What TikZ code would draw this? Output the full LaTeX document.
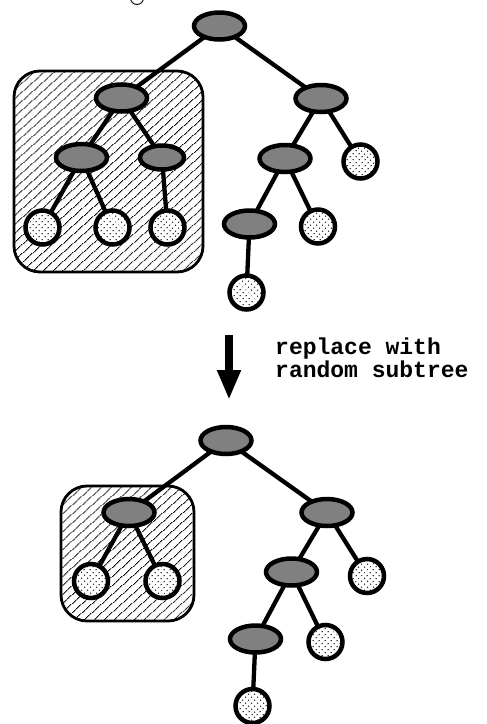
\documentclass[tikz,border=0pt]{standalone}
\usepackage{fontspec}
\setmonofont{Liberation Mono}
\usetikzlibrary{shapes.geometric,patterns.meta,arrows.meta}
\pgfdeclarelayer{boxlayer}
\pgfdeclarelayer{edgelayer}
\pgfsetlayers{boxlayer,edgelayer,main}
\tikzset{
  inner/.style={ellipse, draw, line width=4.5pt, fill=black!50,
    minimum width=51pt, minimum height=27pt, inner sep=0pt},
  innersmall/.style={inner, minimum width=44pt, minimum height=24pt},
  leaf/.style={circle, draw, line width=4.5pt, minimum size=34pt, inner sep=0pt,
    preaction={fill=white}, pattern={Dots[distance=4pt, radius=0.8pt, angle=45]}, pattern color=black!85},
  edge/.style={line width=4.3pt},
  subtree/.style={draw, line width=2.8pt, rounded corners=26pt,
    preaction={fill=white}, pattern={Lines[angle=42, distance=6.5pt, line width=1pt]}},
  caption/.style={font=\ttfamily\bfseries\fontsize{23}{20}\selectfont, align=left, inner sep=0pt}
}
\begin{document}
\begin{tikzpicture}[x=1pt,y=-1pt]
\useasboundingbox (0,0) rectangle (487,724);

% small circle cut by the top edge
\begin{scope}
  \clip (0,0) rectangle (487,724);
  \draw[line width=0.9pt] (137,-2) circle[radius=6.5];
\end{scope}

% ---------- original tree ----------
\node[inner] (ar) at (219.5,26) {};
\node[inner] (aL) at (121.5,98) {};
\node[inner] (aLL) at (81.5,157.5) {};
\node[innersmall] (aLR) at (162,157.5) {};
\node[leaf] (aLLa) at (42.5,227.5) {};
\node[leaf] (aLLb) at (112.5,227.5) {};
\node[leaf] (aLRa) at (167.5,227.5) {};
\node[inner] (aR) at (321,98.5) {};
\node[inner] (aRL) at (285,158.5) {};
\node[leaf] (aRR) at (360.5,161.5) {};
\node[inner] (aRLL) at (249.5,224) {};
\node[leaf] (aRLR) at (318,226.5) {};
\node[leaf] (aRLLa) at (246.5,292.5) {};

% ---------- tree after replacement ----------
\node[inner] (br) at (226,440.5) {};
\node[inner] (bL) at (129,512.5) {};
\node[leaf] (bLa) at (91,581) {};
\node[leaf] (bLb) at (162.5,581) {};
\node[inner] (bR) at (327,512.5) {};
\node[inner] (bRL) at (291.5,572) {};
\node[leaf] (bRR) at (367,576) {};
\node[inner] (bRLL) at (255.5,639) {};
\node[leaf] (bRLR) at (325.5,642) {};
\node[leaf] (bRLLa) at (252.5,706) {};

\begin{pgfonlayer}{edgelayer}
  \foreach \p/\c in {ar/aL, aL/aLL, aL/aLR, aLL/aLLa, aLL/aLLb, aLR/aLRa,
                     ar/aR, aR/aRL, aR/aRR, aRL/aRLL, aRL/aRLR, aRLL/aRLLa,
                     br/bL, bL/bLa, bL/bLb,
                     br/bR, bR/bRL, bR/bRR, bRL/bRLL, bRL/bRLR, bRLL/bRLLa}
    \draw[edge] (\p.center) -- (\c.center);
\end{pgfonlayer}

% highlighted subtrees
\begin{pgfonlayer}{boxlayer}
  \coordinate (boxAnw) at (14,71);
  \coordinate (boxAse) at (203,272);
  \draw[subtree] (boxAnw) rectangle (boxAse);
  \coordinate (boxBnw) at (61,486);
  \coordinate (boxBse) at (194,621);
  \draw[subtree] (boxBnw) rectangle (boxBse);
\end{pgfonlayer}

% transformation arrow and its label
\coordinate (arrtop) at (229,335);
\coordinate (arrbot) at (229,400);
\draw[line width=8pt, -{Triangle[width=22pt,length=30pt]}] (arrtop) -- (arrbot);
\node[caption, anchor=base west] (lbl) at (275,377) {replace with\\random subtree};
\end{tikzpicture}
\end{document}
